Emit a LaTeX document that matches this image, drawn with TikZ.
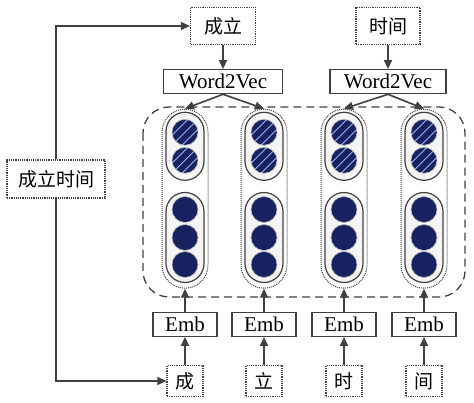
\documentclass[tikz,border=0pt]{standalone}
\usepackage{fontspec}
\setmainfont{Liberation Serif}
\newfontfamily\cjk{Noto Sans CJK SC}
\usetikzlibrary{shapes,arrows.meta,positioning}
\definecolor{linegray}{RGB}{64,64,64}
\definecolor{navy}{RGB}{24,34,96}
\definecolor{hatchblue}{RGB}{150,185,235}
\tikzset{
  word/.style     = {draw=linegray, line width=1.2pt, densely dotted, rectangle, inner sep=0pt, font=\cjk\fontsize{19}{22}\selectfont},
  block/.style    = {draw=linegray, line width=1.2pt, rectangle, inner sep=0pt, minimum height=24pt, font=\fontsize{21}{24}\selectfont},
  column/.style   = {draw=linegray, line width=1pt, densely dotted, rectangle, rounded corners=23pt, minimum width=46pt, minimum height=179pt},
  capsule/.style  = {draw=linegray, line width=1.2pt, fill=gray!8, rectangle, rounded corners=19pt, minimum width=38pt},
  cell/.style     = {draw=gray!50, line width=0.6pt, fill=navy, circle, minimum size=26pt, inner sep=0pt},
  hatched/.style  = {cell, path picture={
      \foreach \d in {-5,0,5}
        \draw[hatchblue, line width=0.8pt] ([xshift=\d pt, yshift=-\d pt]path picture bounding box.center) ++(-12pt,-12pt) -- ++(24pt,24pt);}},
  link/.style     = {->, draw=linegray, line width=1.6pt}
}

\begin{document}
\begin{tikzpicture}[x=1pt, y=-1pt, >={Triangle[length=9pt,width=8pt]}]
\useasboundingbox (0,0) rectangle (474,403);

% Group box
\draw[linegray, line width=1.3pt, dash pattern=on 8pt off 5pt, rounded corners=26pt] (143,107) rectangle (465,297);

% Word level
\node [word, minimum width=65pt, minimum height=37pt] (top1) at (223,26) {成立};
\node [word, minimum width=64pt, minimum height=37pt] (top2) at (388,26) {时间};
\node [block, minimum width=119pt, below=24pt of top1] (w2v1) {Word2Vec};
\node [block, minimum width=116pt, below=24pt of top2] (w2v2) {Word2Vec};

% Character level
\foreach \i/\x/\c in {1/185/成, 2/264/立, 3/344/时, 4/424/间} {
  \node [word, minimum width=36pt, minimum height=31pt] (char\i) at (\x,381) {\c};
  \node [block, minimum width=64pt, above=28pt of char\i] (emb\i) {Emb};
  \node [column, above=23pt of emb\i] (col\i) {};
  \node [capsule, minimum height=68pt, below=3pt of col\i.north] (up\i) {};
  \node [capsule, minimum height=90pt, below=11pt of up\i] (low\i) {};
  \node [hatched] (ha\i) at ([yshift=14pt]up\i.center) {};
  \node [hatched] (hb\i) at ([yshift=-14pt]up\i.center) {};
  \node [cell] (ca\i) at ([yshift=28pt]low\i.center) {};
  \node [cell] (cb\i) at (low\i.center) {};
  \node [cell] (cc\i) at ([yshift=-27pt]low\i.center) {};
  \draw[link] (char\i) -- (emb\i);
  \draw[link] (emb\i) -- (col\i);
}

% Side word
\node [word, minimum width=98pt, minimum height=38pt] (side) at (56,179) {成立时间};

% Connections
\draw[link] (top1) -- (w2v1);
\draw[link] (top2) -- (w2v2);
\draw[link] (w2v1.south) -- (col1.north);
\draw[link] (w2v1.south) -- (col2.north);
\draw[link] (w2v2.south) -- (col3.north);
\draw[link] (w2v2.south) -- (col4.north);
\draw[link, line width=1.2pt] (side.north) |- (top1.west);
\draw[link, line width=1.2pt] (side.south) |- (char1.west);

\end{tikzpicture}
\end{document}
